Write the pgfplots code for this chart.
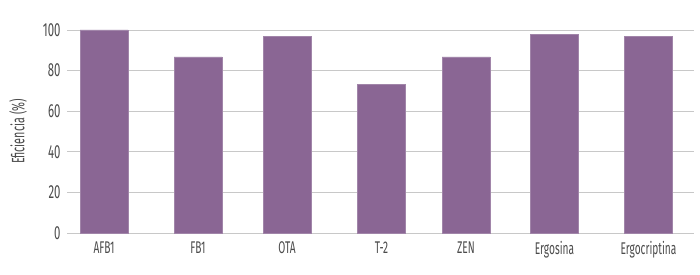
\documentclass[border=0pt]{standalone}
\usepackage{fontspec}
\setmainfont{Fira Sans}[FakeStretch=0.6]
\usepackage{pgfplots}
\pgfplotsset{compat=1.18}
\definecolor{barc}{RGB}{138,102,148}
\definecolor{txt}{RGB}{75,75,75}
\definecolor{gridc}{RGB}{200,200,200}
\begin{document}
\begin{tikzpicture}
\begin{axis}[
  scale only axis,
  width=627bp, height=203bp,
  xmin=0, xmax=627,
  ymin=0, ymax=100,
  ytick={0,20,40,60,80,100},
  xtick=data,
  xticklabels={AFB1,FB1,OTA,T-2,ZEN,Ergosina,Ergocriptina},
  axis line style={draw=none},
  tick style={draw=none},
  ymajorgrids,
  grid style={gridc, line width=0.8pt},
  /pgf/number format/assume math mode=true,
  yticklabel style={font=\fontsize{19}{21}\selectfont, text=txt, xshift=-3bp},
  xticklabel style={font=\fontsize{17}{19}\selectfont, text=txt, yshift=-5bp},
  ylabel={Eficiencia (\%)},
  ylabel style={font=\fontsize{18}{20}\selectfont, text=txt, yshift=9bp},
  clip=false,
]
\addplot[ybar, bar width=48bp, fill=barc, draw=barc!80!white] coordinates {
  (37,100) (131,86.7) (220,96.9) (314.5,73.1) (399,86.7) (487.5,97.7) (581.5,96.9)
};
\end{axis}
\path (-67bp,-42bp) rectangle (633bp,233bp);
\end{tikzpicture}
\end{document}
